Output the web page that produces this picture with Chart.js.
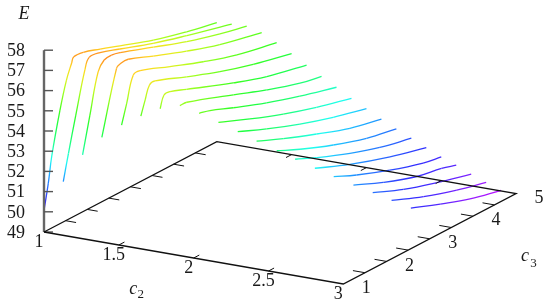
<!DOCTYPE html>
<html>
<head>
<meta charset="utf-8">
<title>E(c2, c3)</title>
<script src="https://cdn.jsdelivr.net/npm/chart.js@4/dist/chart.umd.min.js"></script>
<style>
    html, body { margin: 0; padding: 0; background: #fff; }
    #chart { display: block; }
</style>
</head>
<body>
<canvas id="chart" width="550" height="307"></canvas>
<script>
// ==========================================
// DATA (one curve per c2 value, E against c3)
// ==========================================
const c2Values = [1, 1.1, 1.2, 1.3, 1.4, 1.5, 1.6, 1.7, 1.8, 1.9, 2, 2.1, 2.2, 2.3, 2.4, 2.5, 2.6, 2.7, 2.8, 2.9];

const c3Lines = [
    [1, 1.1, 1.18, 1.37, 1.52, 1.64, 1.69, 1.91, 2.3, 2.76, 3.53, 4.3, 5],
    [1.1, 1.22, 1.39, 1.6, 1.7, 1.95, 2.41, 3.18, 3.96, 5],
    [1.2, 1.37, 1.56, 1.7, 1.87, 2.07, 2.84, 3.61, 4.38, 5],
    [1.3, 1.64, 1.72, 1.91, 2.49, 3.26, 4.03, 5],
    [1.41, 1.53, 1.68, 1.84, 2.53, 3.3, 4.08, 5],
    [1.51, 1.61, 1.71, 1.84, 2.57, 3.34, 4.11, 5],
    [1.61, 1.7, 1.84, 2.22, 3.3, 4.08, 5],
    [1.72, 1.88, 2.96, 3.73, 4.5, 5],
    [1.82, 2.07, 2.61, 3.38, 4.15, 5],
    [1.92, 2.65, 3.42, 4.19, 5],
    [2.02, 2.69, 3.46, 4.23, 5],
    [2.11, 2.73, 3.5, 4.27, 5],
    [2.23, 2.77, 3.54, 4.31, 5],
    [2.31, 2.81, 3.58, 4.27, 5],
    [2.42, 3.23, 4.16, 5],
    [2.51, 3.04, 3.81, 4.58, 5],
    [2.62, 3.31, 4.09, 4.66, 5],
    [2.72, 3.43, 4.2, 5],
    [2.81, 3.55, 4.32, 5],
    [2.91, 3.59, 4.28, 5]
];

const eLines = [
    [50.07, 51.31, 52.56, 54.62, 55.94, 56.65, 56.9, 56.88, 56.6, 56.25, 55.67, 55.22, 54.89],
    [51.51, 52.78, 54.48, 56.48, 56.99, 56.95, 56.61, 56.03, 55.54, 54.94],
    [52.85, 54.63, 56.56, 56.99, 57.04, 56.94, 56.35, 55.76, 55.28, 54.97],
    [53.74, 56.77, 56.9, 56.92, 56.43, 55.81, 55.27, 54.78],
    [54.35, 55.3, 56.52, 56.56, 55.99, 55.37, 54.84, 54.41],
    [54.81, 55.5, 56.13, 56.18, 55.57, 54.96, 54.46, 54],
    [55.19, 55.77, 55.78, 55.47, 54.58, 54.02, 53.56],
    [55.35, 55.34, 54.5, 53.88, 53.35, 53.13],
    [54.99, 54.84, 54.38, 53.76, 53.23, 52.72],
    [54.56, 53.91, 53.29, 52.76, 52.3],
    [54.11, 53.5, 52.88, 52.35, 51.92],
    [53.67, 53.1, 52.47, 51.89, 51.53],
    [53.19, 52.66, 52.01, 51.48, 51.18],
    [52.81, 52.33, 51.68, 51.2, 50.84],
    [52.37, 51.65, 50.98, 50.5],
    [51.98, 51.47, 50.85, 50.34, 50.17],
    [51.57, 50.93, 50.35, 50.11, 49.89],
    [51.21, 50.58, 50.05, 49.58],
    [50.86, 50.22, 49.68, 49.3],
    [50.49, 49.93, 49.41, 49.03]
];

const eTicks = [49, 50, 51, 52, 53, 54, 55, 56, 57, 58];
const c2Ticks = [1.5, 2, 2.5];
const c2Labels = [1, 1.5, 2, 2.5, 3];
const c3Ticks = [1.5, 2, 2.5, 3, 3.5, 4, 4.5];
const c3Labels = [1, 2, 3, 4, 5];

const paletteE = [49, 49.5, 50, 50.5, 51, 51.5, 52, 52.4, 52.8, 53.2, 54, 54.6, 55, 55.5, 56, 56.5, 57, 58];
const paletteColors = ['#c010ff', '#8a20ff', '#5028ff', '#3030ff', '#2c60ff', '#2090ff', '#20c8ff', '#20fff0', '#20ffc0',
    '#20ff80', '#20ff40', '#40ff20', '#70ff20', '#a8ff20', '#e0f020', '#ffd820', '#ff9020', '#ff3000'];

// ==========================================
// 3D VIEW (same axes as the splot: c2, c3, E)
// ==========================================
function project(c2, c3, e) {
    return {
        x: 44 + 149.65 * (c2 - 1) + 43.2 * (c3 - 1),
        y: 232 + 26 * (c2 - 1) - 22.6 * (c3 - 1) - 20.2 * (e - 49),
        e: e
    };
}

function hexToRgb(hex) {
    return [1, 3, 5].map(i => parseInt(hex.substr(i, 2), 16));
}

function colorAt(e) {
    let i = 0;
    while (i < paletteE.length - 2 && e > paletteE[i + 1]) i++;
    const t = Math.max(0, Math.min(1, (e - paletteE[i]) / (paletteE[i + 1] - paletteE[i])));
    const a = hexToRgb(paletteColors[i]);
    const b = hexToRgb(paletteColors[i + 1]);
    return `rgb(${a.map((v, j) => Math.round(v + (b[j] - v) * t)).join(',')})`;
}

// each piece of a curve fades from the colour of one E value to the next
function segmentColor(ctx) {
    const data = ctx.chart.data.datasets[ctx.datasetIndex].data;
    const e0 = data[ctx.p0DataIndex].e;
    const e1 = data[ctx.p1DataIndex].e;
    const grad = ctx.chart.ctx.createLinearGradient(ctx.p0.x, ctx.p0.y, ctx.p1.x, ctx.p1.y);
    for (let s = 0; s <= 6; s++) grad.addColorStop(s / 6, colorAt(e0 + (e1 - e0) * s / 6));
    return grad;
}

function rule(points, color, width) {
    return { data: points, borderColor: color, borderWidth: width, pointRadius: 0, showLine: true, tension: 0, clip: false };
}

// ==========================================
// DATASETS
// ==========================================
const datasets = [];

// base of the box
datasets.push(rule([
    project(1, 1, 49), project(3, 1, 49), project(3, 5, 49), project(1, 5, 49), project(1, 1, 49)
], '#111', 1.3));

// c2 ticks, front and back
c2Ticks.forEach(v => {
    datasets.push(rule([project(v, 1, 49), project(v, 1.13, 49)], '#111', 1));
    datasets.push(rule([project(v, 5, 49), project(v, 4.87, 49)], '#111', 1));
});

// c3 ticks, both sides
c3Ticks.forEach(v => {
    datasets.push(rule([project(3, v, 49), project(2.92, v, 49)], '#111', 1));
    datasets.push(rule([project(1, v, 49), project(1.07, v, 49)], '#111', 1));
});

// E axis
eTicks.forEach(v => {
    const p = project(1, 1, v);
    datasets.push(rule([p, { x: p.x + 9, y: p.y, e: v }], '#555', 1.4));
});
datasets.push(rule([project(1, 1, 49), project(1, 1, 58)], '#666', 2.4));

// curves
c2Values.forEach((c2, k) => {
    datasets.push({
        data: c3Lines[k].map((c3, i) => project(c2, c3, eLines[k][i])),
        borderWidth: 1.3,
        pointRadius: 0,
        showLine: true,
        tension: 0.4,
        clip: false,
        segment: { borderColor: segmentColor }
    });
});

// ==========================================
// LABELS
// ==========================================
const textPlugin = {
    id: 'axisText',
    afterDatasetsDraw(chart) {
        const { ctx, scales: { x, y } } = chart;
        const put = (text, p, dx, dy, font, align) => {
            ctx.font = font;
            ctx.textAlign = align || 'center';
            ctx.fillText(text, x.getPixelForValue(p.x) + dx, y.getPixelForValue(p.y) + dy);
        };
        const roman = '18px "Liberation Serif"';
        const italic = 'italic 18px "Liberation Serif"';
        const sub = '13px "Liberation Serif"';

        ctx.save();
        ctx.fillStyle = '#1a1a1a';
        ctx.textBaseline = 'middle';

        eTicks.forEach(v => put(String(v), project(1, 1, v), -19, 1, roman, 'right'));
        c2Labels.forEach(v => put(String(v), project(v, 1, 49), -5, 10.5, roman));
        c3Labels.forEach(v => put(String(v), project(3, v, 49), 23, 4.5, roman));

        put('E', project(1, 1, 58), -20, -36, italic);
        put('c', project(2, 1, 49), -60.5, 31, italic);
        put('2', project(2, 1, 49), -53, 37, sub);
        put('c', project(3, 4, 49), 52, 40, italic);
        put('3', project(3, 4, 49), 60.5, 47, sub);
        ctx.restore();
    }
};

// ==========================================
// CHART
// ==========================================
new Chart(document.getElementById('chart'), {
    type: 'scatter',
    data: { datasets: datasets },
    options: {
        responsive: false,
        animation: false,
        events: [],
        layout: { padding: 0 },
        plugins: { legend: { display: false }, tooltip: { enabled: false } },
        scales: {
            x: { type: 'linear', display: false, min: 0, max: 550 },
            y: { type: 'linear', display: false, min: 0, max: 307, reverse: true }
        }
    },
    plugins: [textPlugin]
});
</script>
</body>
</html>
